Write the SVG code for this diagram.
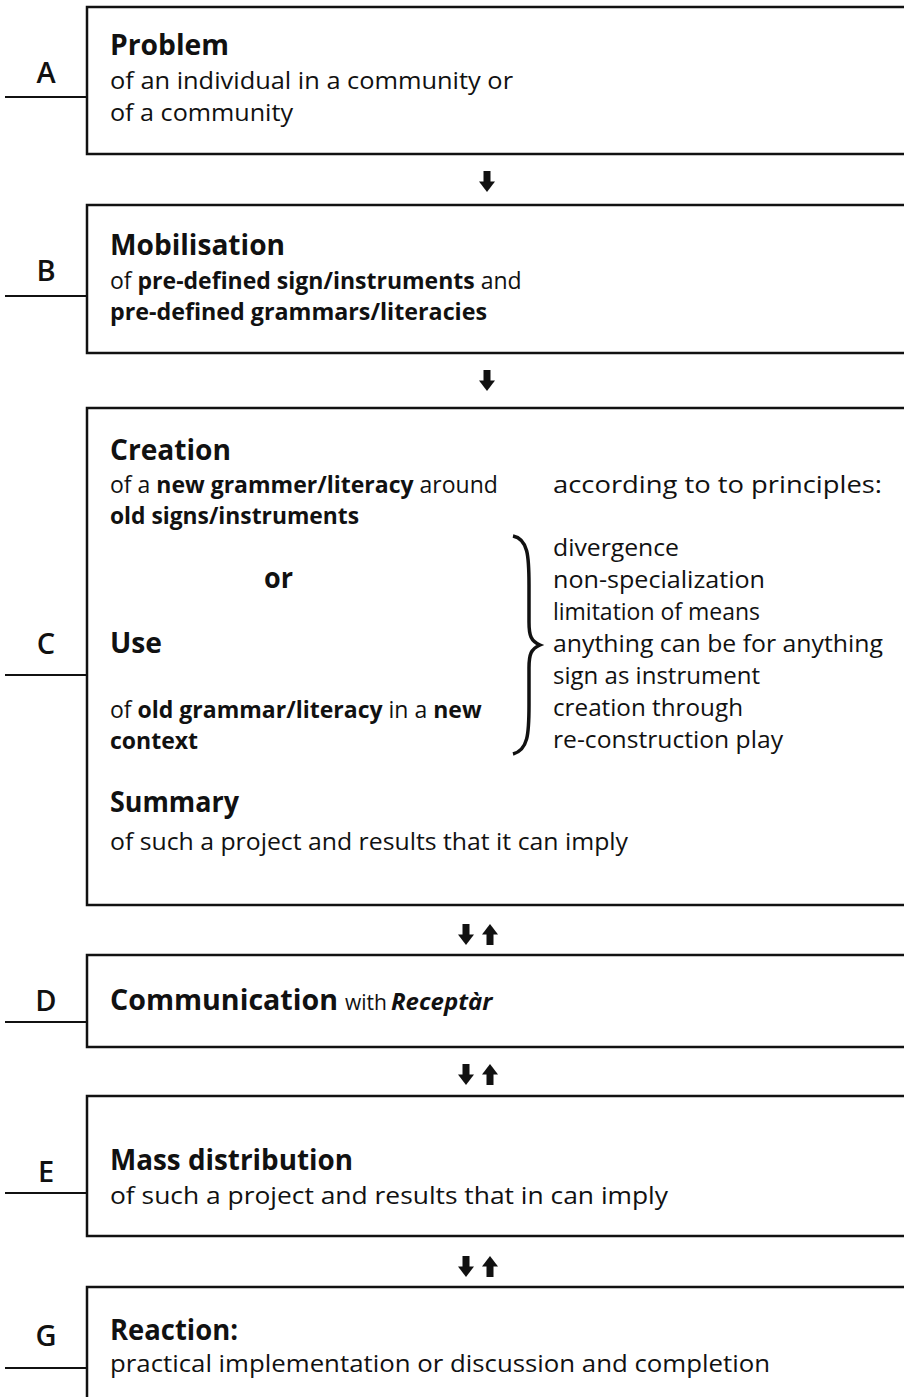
<svg xmlns="http://www.w3.org/2000/svg" width="904" height="1397" viewBox="0 0 904 1397">
<defs>
<style>
.box{fill:none;stroke:#111;stroke-width:2.5}
.tick{stroke:#111;stroke-width:2}
.lbl{font-family:"Open Sans","Noto Sans",sans-serif;font-size:29px;font-weight:600;fill:#111;text-anchor:middle}
.h{font-family:"Open Sans","Noto Sans",sans-serif;font-size:28px;font-weight:700;fill:#111}
.t{font-family:"Open Sans","Noto Sans",sans-serif;font-size:24px;fill:#111}
.b{font-weight:700}
.arr{fill:#111}
</style>
<g id="dn"><rect x="-3.5" y="-21" width="7" height="11"/><polygon points="-8,-10.5 8,-10.5 0,0"/></g>
<g id="up"><rect x="-3.5" y="10" width="7" height="11"/><polygon points="-8,10.5 8,10.5 0,0"/></g>
</defs>
<rect width="904" height="1397" fill="#fff"/>

<g id="nodeA">
<rect class="box" x="87" y="7" width="830" height="147"/>
<text class="lbl" x="46" y="83">A</text>
<line class="tick" x1="5" y1="97" x2="87" y2="97"/>
<text class="h" x="110" y="55" textLength="119" lengthAdjust="spacingAndGlyphs">Problem</text>
<text class="t" x="110" y="89" textLength="403" lengthAdjust="spacingAndGlyphs">of an individual in a community or</text>
<text class="t" x="110" y="121" textLength="183" lengthAdjust="spacingAndGlyphs">of a community</text>
</g>

<g id="nodeB">
<rect class="box" x="87" y="205" width="830" height="148"/>
<text class="lbl" x="46" y="281">B</text>
<line class="tick" x1="5" y1="296" x2="87" y2="296"/>
<text class="h" x="110" y="255" textLength="175" lengthAdjust="spacingAndGlyphs">Mobilisation</text>
<text class="t" x="110" y="289" style="font-size:23px">of <tspan class="b">pre-defined sign/instruments</tspan> and</text>
<text class="t b" x="110" y="320" textLength="377" lengthAdjust="spacingAndGlyphs">pre-defined grammars/literacies</text>
</g>

<g id="nodeC">
<rect class="box" x="87" y="408" width="830" height="497"/>
<text class="lbl" x="46" y="654">C</text>
<line class="tick" x1="5" y1="675" x2="87" y2="675"/>
<text class="h" x="110" y="460" textLength="121" lengthAdjust="spacingAndGlyphs">Creation</text>
<text class="t" x="110" y="493" style="font-size:23px">of a <tspan class="b">new grammer/literacy</tspan> around</text>
<text class="t b" x="110" y="524" textLength="249" lengthAdjust="spacingAndGlyphs">old signs/instruments</text>
<text class="h" x="264" y="588" textLength="29" lengthAdjust="spacingAndGlyphs">or</text>
<text class="h" x="110" y="653" textLength="52" lengthAdjust="spacingAndGlyphs">Use</text>
<text class="t" x="110" y="718" style="font-size:23px">of <tspan class="b">old grammar/literacy</tspan> in a <tspan class="b">new</tspan></text>
<text class="t b" x="110" y="749" textLength="88" lengthAdjust="spacingAndGlyphs">context</text>
<text class="h" x="110" y="812" textLength="129" lengthAdjust="spacingAndGlyphs">Summary</text>
<text class="t" x="110" y="850" textLength="518" lengthAdjust="spacingAndGlyphs">of such a project and results that it can imply</text>
<text class="t" x="553" y="493" textLength="329" lengthAdjust="spacingAndGlyphs">according to to principles:</text>
<path d="M513,536 C528,539 529,556 529,585 L529,622 C529,636 531,641 540,645 C531,649 529,654 529,668 L529,705 C529,734 528,750 513,754" fill="none" stroke="#111" stroke-width="3.5"/>
<text class="t" x="553" y="556" textLength="126" lengthAdjust="spacingAndGlyphs">divergence</text>
<text class="t" x="553" y="588" textLength="212" lengthAdjust="spacingAndGlyphs">non-specialization</text>
<text class="t" x="553" y="620" textLength="207" lengthAdjust="spacingAndGlyphs">limitation of means</text>
<text class="t" x="553" y="652" textLength="330" lengthAdjust="spacingAndGlyphs">anything can be for anything</text>
<text class="t" x="553" y="684" textLength="207" lengthAdjust="spacingAndGlyphs">sign as instrument</text>
<text class="t" x="553" y="716" textLength="190" lengthAdjust="spacingAndGlyphs">creation through</text>
<text class="t" x="553" y="748" textLength="230" lengthAdjust="spacingAndGlyphs">re-construction play</text>
</g>

<g id="nodeD">
<rect class="box" x="87" y="955" width="830" height="92"/>
<text class="lbl" x="46" y="1011">D</text>
<line class="tick" x1="5" y1="1022" x2="87" y2="1022"/>
<text class="h" x="110" y="1010" textLength="228" lengthAdjust="spacingAndGlyphs">Communication</text>
<text class="t" x="345" y="1010" style="font-size:21px">with</text>
<text class="t b" x="391" y="1010" font-style="italic" style="font-size:24px">Receptàr</text>
</g>

<g id="nodeE">
<rect class="box" x="87" y="1096" width="830" height="140"/>
<text class="lbl" x="46" y="1182">E</text>
<line class="tick" x1="5" y1="1193" x2="87" y2="1193"/>
<text class="h" x="110" y="1170" textLength="243" lengthAdjust="spacingAndGlyphs">Mass distribution</text>
<text class="t" x="110" y="1204" textLength="558" lengthAdjust="spacingAndGlyphs">of such a project and results that in can imply</text>
</g>

<g id="nodeG">
<rect class="box" x="87" y="1287" width="830" height="130"/>
<text class="lbl" x="46" y="1346">G</text>
<line class="tick" x1="5" y1="1368" x2="87" y2="1368"/>
<text class="h" x="110" y="1340" textLength="128" lengthAdjust="spacingAndGlyphs">Reaction:</text>
<text class="t" x="110" y="1372" textLength="660" lengthAdjust="spacingAndGlyphs">practical implementation or discussion and completion</text>
</g>

<g id="connectors" class="arr">
<use href="#dn" x="487" y="192"/>
<use href="#dn" x="487" y="391"/>
<use href="#dn" x="466" y="945"/>
<use href="#up" x="490" y="924"/>
<use href="#dn" x="466" y="1085"/>
<use href="#up" x="490" y="1064"/>
<use href="#dn" x="466" y="1277"/>
<use href="#up" x="490" y="1256"/>
</g>
</svg>
